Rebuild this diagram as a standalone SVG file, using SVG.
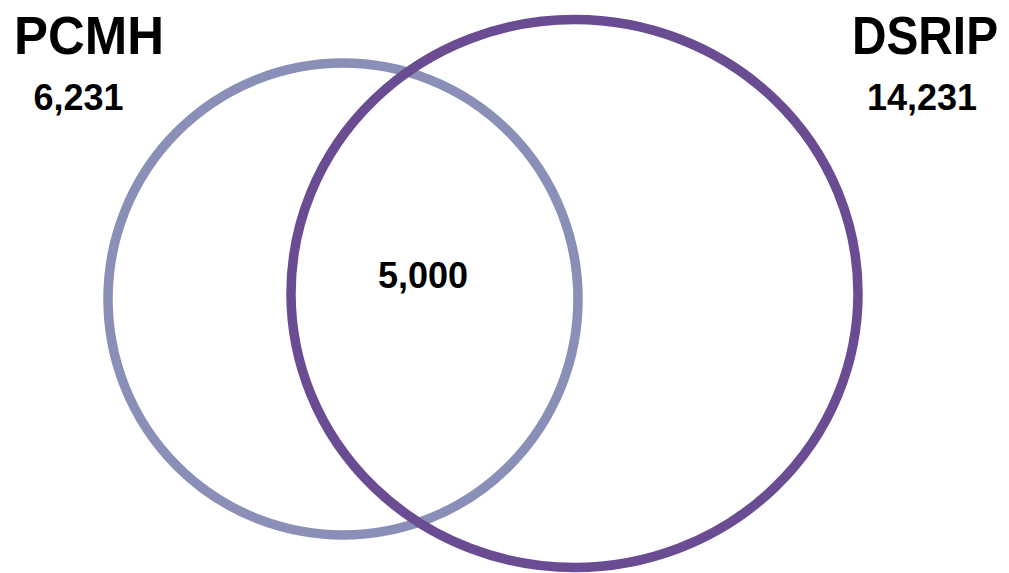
<svg xmlns="http://www.w3.org/2000/svg" width="1009" height="573" viewBox="0 0 1009 573">
<style>
.t{font-family:"Liberation Sans",Arial,sans-serif;font-weight:bold;fill:#000}
.big{font-size:53px}
.num{font-size:36px}
</style>
<rect width="1009" height="573" fill="#fff"/>
<g id="pcmh">
<ellipse cx="343" cy="299" rx="235" ry="236" fill="none" stroke="#8A8FB8" stroke-width="9.5"/>
<text class="t big" x="14" y="54" textLength="150" lengthAdjust="spacingAndGlyphs">PCMH</text>
<text class="t num" x="78.5" y="110" text-anchor="middle">6,231</text>
</g>
<g id="dsrip">
<ellipse cx="574.5" cy="293.5" rx="283.5" ry="274" fill="none" stroke="#6A4C93" stroke-width="9.5"/>
<text class="t big" x="852" y="54" textLength="146" lengthAdjust="spacingAndGlyphs">DSRIP</text>
<text class="t num" x="922" y="110" text-anchor="middle">14,231</text>
</g>
<g id="overlap">
<text class="t num" x="423" y="288" text-anchor="middle">5,000</text>
</g>
<g id="connectors"/>
</svg>
